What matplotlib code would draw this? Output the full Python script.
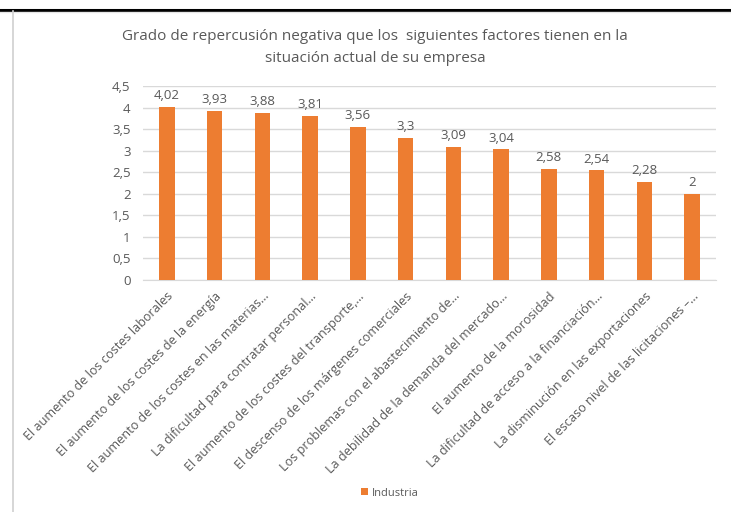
import matplotlib
matplotlib.use("Agg")
import matplotlib.pyplot as plt
from matplotlib.lines import Line2D
from matplotlib.patches import Patch

categories = [
    "El aumento de los costes laborales",
    "El aumento de los costes de la energía",
    "El aumento de los costes en las materias...",
    "La dificultad para contratar personal...",
    "El aumento de los costes del transporte,...",
    "El descenso de los márgenes comerciales",
    "Los problemas con el abastecimiento de...",
    "La debilidad de la demanda del mercado...",
    "El aumento de la morosidad",
    "La dificultad de acceso a la financiación...",
    "La disminución en las exportaciones",
    "El escaso nivel de las licitaciones –...",
]
values = [4.02, 3.93, 3.88, 3.81, 3.56, 3.3, 3.09, 3.04, 2.58, 2.54, 2.28, 2.0]
value_labels = ["4,02", "3,93", "3,88", "3,81", "3,56", "3,3", "3,09", "3,04", "2,58", "2,54", "2,28", "2"]
yticks = [0, 0.5, 1, 1.5, 2, 2.5, 3, 3.5, 4, 4.5]
ytick_labels = ["0", "0,5", "1", "1,5", "2", "2,5", "3", "3,5", "4", "4,5"]
series_name = "Industria"
title = "Grado de repercusión negativa que los  siguientes factores tienen en la\nsituación actual de su empresa"

FONT = ["Open Sans", "DejaVu Sans"]
plt.rcParams['font.family'] = FONT
GRAY = "#595959"
ORANGE = "#ED7D31"

W, H = 731, 512
fig = plt.figure(figsize=(W / 100, H / 100), dpi=100)

# frame lines
fig.add_artist(Line2D([0, 1], [1 - 9.5 / H, 1 - 9.5 / H], color="black", lw=2.2))
fig.add_artist(Line2D([0, 1], [1 - 12 / H, 1 - 12 / H], color="#e6e6e6", lw=1))
fig.add_artist(Line2D([13 / W, 13 / W], [0, 1 - 11 / H], color="#d0d0d0", lw=1.2))

ax = fig.add_axes([143 / W, 1 - 280 / H, (716 - 143) / W, (280 - 86) / H])
x = list(range(len(categories)))
bars = ax.bar(x, values, width=0.32, color=ORANGE, zorder=3)
for xi, v, lab in zip(x, values, value_labels):
    ax.text(xi, v + 0.1, lab, ha="center", va="bottom", fontsize=9.5, color=GRAY)

ax.set_xlim(-0.5, len(categories) - 0.5)
ax.set_ylim(0, 4.5)
ax.set_yticks(yticks)
ax.set_yticklabels(ytick_labels, fontsize=9.5, color=GRAY)
ax.set_xticks(x)
ax.set_xticklabels(categories, rotation=45, ha="right", va="top", rotation_mode="anchor",
                   fontsize=9.1, color=GRAY)
ax.tick_params(axis="both", length=0)
ax.tick_params(axis="y", pad=9)
ax.tick_params(axis="x", pad=7)
ax.grid(axis="y", color="#d9d9d9", lw=1, zorder=0)
for s in ["top", "right", "left"]:
    ax.spines[s].set_visible(False)
ax.spines["bottom"].set_color("#d9d9d9")

fig.text(375 / W, 1 - 47.5 / H, title, ha="center", va="center", fontsize=11,
         color=GRAY, linespacing=1.55)

handles = [Patch(facecolor=ORANGE, edgecolor="none")]
fig.legend(handles, [series_name], loc="center", bbox_to_anchor=(390 / W, 1 - 493 / H),
           frameon=False, fontsize=8, labelcolor=GRAY, handlelength=0.6, handleheight=0.6,
           handletextpad=0.4)

fig.savefig("out.png", dpi=100)
